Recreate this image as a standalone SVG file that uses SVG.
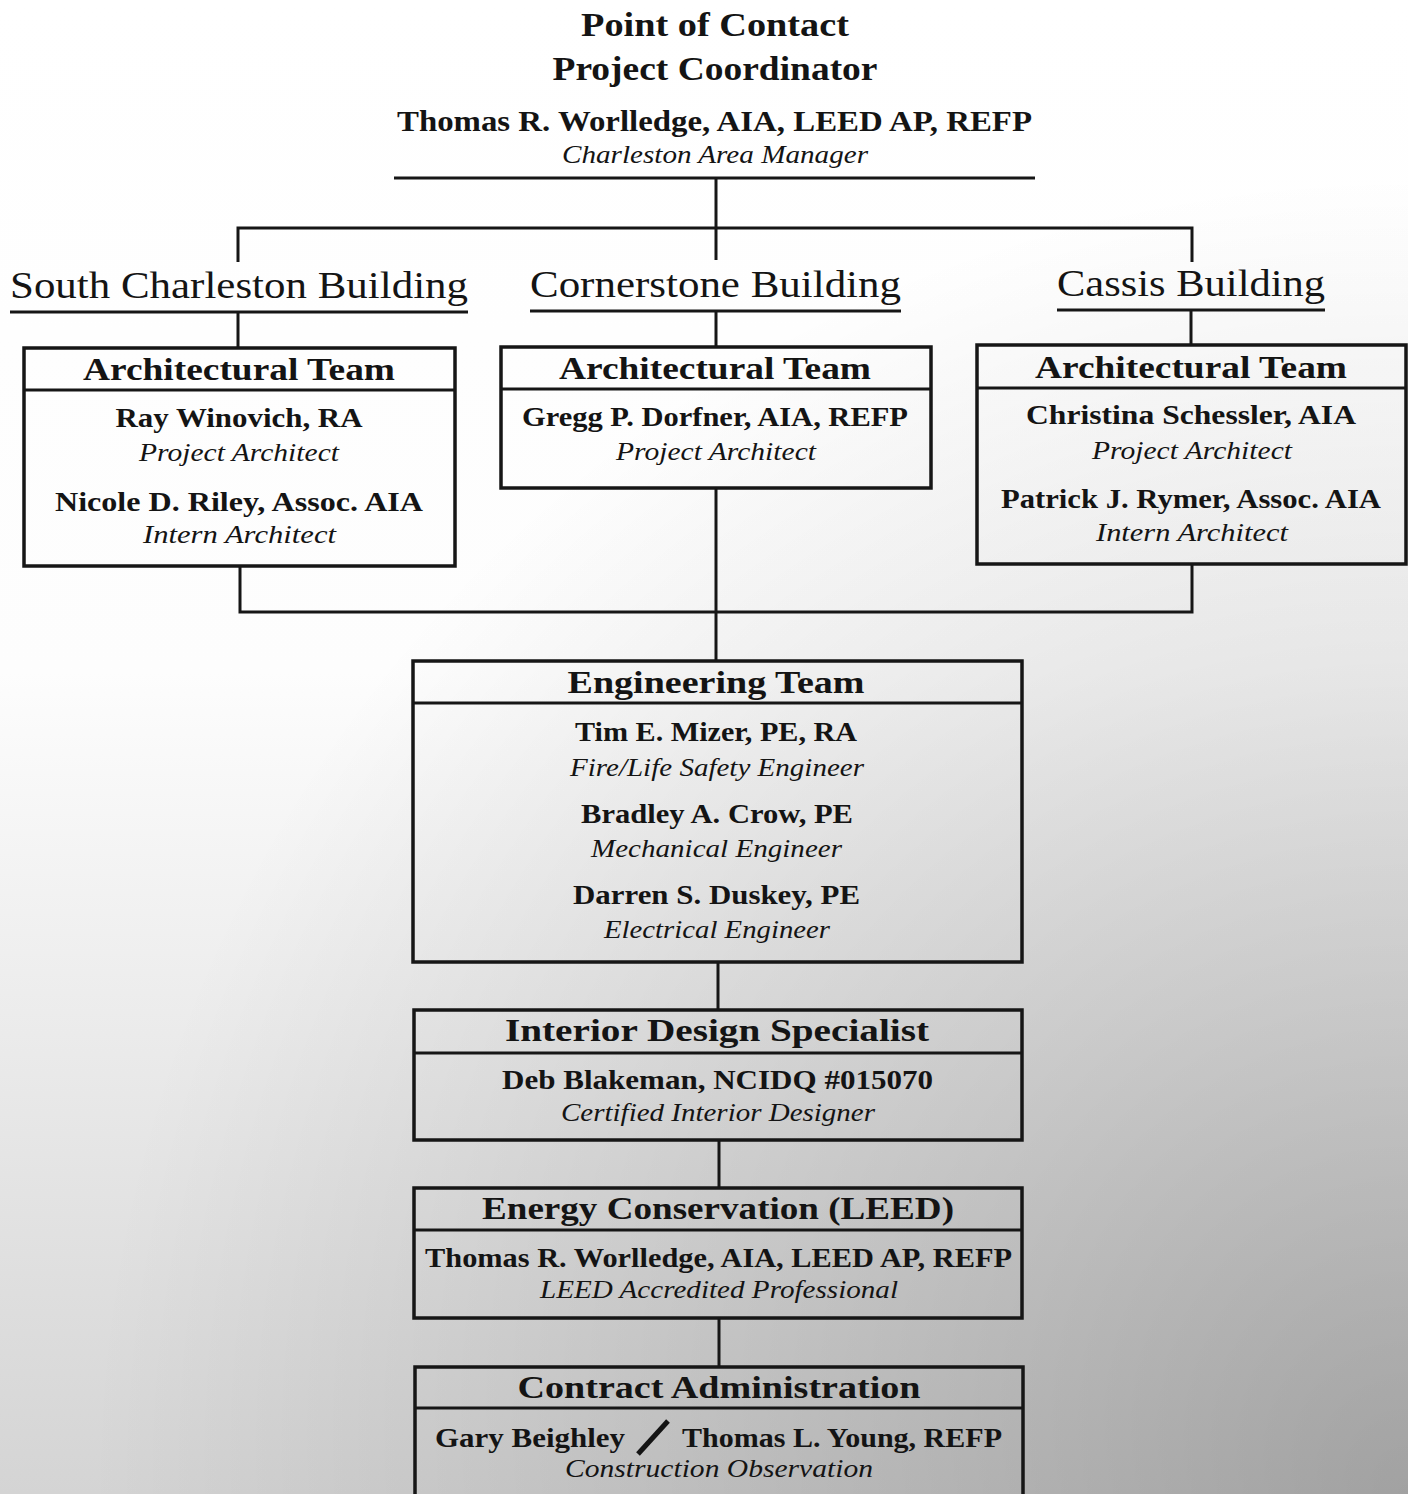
<svg xmlns="http://www.w3.org/2000/svg" width="1408" height="1494" viewBox="0 0 1408 1494">
<defs>
<linearGradient id="bgv" x1="0" y1="0" x2="0" y2="1494" gradientUnits="userSpaceOnUse">
<stop offset="0" stop-color="#ffffff"/>
<stop offset="0.45" stop-color="#fdfdfd"/>
<stop offset="1" stop-color="#d4d4d4"/>
</linearGradient>
<radialGradient id="bgr" cx="1408" cy="1494" r="1320" gradientUnits="userSpaceOnUse">
<stop offset="0" stop-color="#000" stop-opacity="0.24"/>
<stop offset="1" stop-color="#000" stop-opacity="0"/>
</radialGradient>
<style>
text{font-family:"Liberation Serif","Times New Roman",serif;fill:#141414;text-anchor:middle}
.title{font-size:34px;font-weight:bold}
.mgr{font-size:29px;font-weight:bold}
.it{font-size:26px;font-style:italic}
.bldg{font-size:37px}
.hd{font-size:32px;font-weight:bold}
.nm{font-size:28px;font-weight:bold}
.box{fill:none;stroke:#161616;stroke-width:3.5}
.div{stroke:#161616;stroke-width:3}
.ln{fill:none;stroke:#161616;stroke-width:3}
</style>
</defs>
<rect x="0" y="0" width="1408" height="1494" fill="url(#bgv)"/>
<rect x="0" y="0" width="1408" height="1494" fill="url(#bgr)"/>

<g id="connectors">
<path class="ln" d="M394 178 H1035" stroke-width="3.5"/>
<path class="ln" d="M716 178 V260"/>
<path class="ln" d="M238 262 V228 H1192 V262"/>
<path class="ln" d="M10 312 H468"/>
<path class="ln" d="M530 311 H901"/>
<path class="ln" d="M1057 310 H1325"/>
<path class="ln" d="M238 312 V348"/>
<path class="ln" d="M716 311 V347"/>
<path class="ln" d="M1191 310 V345"/>
<path class="ln" d="M240 566 V612 H1192 V564"/>
<path class="ln" d="M716 488 V661"/>
<path class="ln" d="M718 962 V1010"/>
<path class="ln" d="M719 1140 V1188"/>
<path class="ln" d="M719 1318 V1367"/>
</g>

<g id="coordinator">
<text class="title" x="715" y="36" textLength="268" lengthAdjust="spacingAndGlyphs">Point of Contact</text>
<text class="title" x="715" y="80" textLength="325" lengthAdjust="spacingAndGlyphs">Project Coordinator</text>
<text class="mgr" x="714.5" y="131" textLength="635" lengthAdjust="spacingAndGlyphs">Thomas R. Worlledge, AIA, LEED AP, REFP</text>
<text class="it" x="715" y="163" textLength="306" lengthAdjust="spacingAndGlyphs">Charleston Area Manager</text>
</g>

<g id="south-charleston">
<text class="bldg" x="239" y="298" textLength="458" lengthAdjust="spacingAndGlyphs">South Charleston Building</text>
</g>
<g id="cornerstone">
<text class="bldg" x="715.5" y="297" textLength="371" lengthAdjust="spacingAndGlyphs">Cornerstone Building</text>
</g>
<g id="cassis">
<text class="bldg" x="1191" y="296" textLength="268" lengthAdjust="spacingAndGlyphs">Cassis Building</text>
</g>

<g id="arch-team-south">
<rect class="box" x="24" y="348" width="431" height="218"/>
<line class="div" x1="24" y1="390" x2="455" y2="390"/>
<text class="hd" x="239" y="380" textLength="312" lengthAdjust="spacingAndGlyphs">Architectural Team</text>
<text class="nm" x="239" y="427" textLength="247" lengthAdjust="spacingAndGlyphs">Ray Winovich, RA</text>
<text class="it" x="239" y="461" textLength="200" lengthAdjust="spacingAndGlyphs">Project Architect</text>
<text class="nm" x="239" y="511" textLength="368" lengthAdjust="spacingAndGlyphs">Nicole D. Riley, Assoc. AIA</text>
<text class="it" x="239.5" y="543" textLength="193" lengthAdjust="spacingAndGlyphs">Intern Architect</text>
</g>

<g id="arch-team-cornerstone">
<rect class="box" x="501" y="347" width="430" height="141"/>
<line class="div" x1="501" y1="389" x2="931" y2="389"/>
<text class="hd" x="715" y="379" textLength="312" lengthAdjust="spacingAndGlyphs">Architectural Team</text>
<text class="nm" x="715" y="426" textLength="386" lengthAdjust="spacingAndGlyphs">Gregg P. Dorfner, AIA, REFP</text>
<text class="it" x="716" y="460" textLength="200" lengthAdjust="spacingAndGlyphs">Project Architect</text>
</g>

<g id="arch-team-cassis">
<rect class="box" x="977" y="345" width="429" height="219"/>
<line class="div" x1="977" y1="388" x2="1406" y2="388"/>
<text class="hd" x="1191" y="378" textLength="312" lengthAdjust="spacingAndGlyphs">Architectural Team</text>
<text class="nm" x="1191" y="424" textLength="330" lengthAdjust="spacingAndGlyphs">Christina Schessler, AIA</text>
<text class="it" x="1192" y="459" textLength="200" lengthAdjust="spacingAndGlyphs">Project Architect</text>
<text class="nm" x="1191" y="508" textLength="380" lengthAdjust="spacingAndGlyphs">Patrick J. Rymer, Assoc. AIA</text>
<text class="it" x="1192" y="541" textLength="192" lengthAdjust="spacingAndGlyphs">Intern Architect</text>
</g>

<g id="engineering-team">
<rect class="box" x="413" y="661" width="609" height="301"/>
<line class="div" x1="413" y1="703" x2="1022" y2="703"/>
<text class="hd" x="716" y="693" textLength="297" lengthAdjust="spacingAndGlyphs">Engineering Team</text>
<text class="nm" x="716" y="741" textLength="282" lengthAdjust="spacingAndGlyphs">Tim E. Mizer, PE, RA</text>
<text class="it" x="717" y="776" textLength="294" lengthAdjust="spacingAndGlyphs">Fire/Life Safety Engineer</text>
<text class="nm" x="717" y="823" textLength="272" lengthAdjust="spacingAndGlyphs">Bradley A. Crow, PE</text>
<text class="it" x="716.5" y="857" textLength="251" lengthAdjust="spacingAndGlyphs">Mechanical Engineer</text>
<text class="nm" x="716.5" y="904" textLength="287" lengthAdjust="spacingAndGlyphs">Darren S. Duskey, PE</text>
<text class="it" x="717" y="938" textLength="226" lengthAdjust="spacingAndGlyphs">Electrical Engineer</text>
</g>

<g id="interior-design">
<rect class="box" x="414" y="1010" width="608" height="130"/>
<line class="div" x1="414" y1="1053" x2="1022" y2="1053"/>
<text class="hd" x="717" y="1041" textLength="424" lengthAdjust="spacingAndGlyphs">Interior Design Specialist</text>
<text class="nm" x="717.5" y="1089" textLength="431" lengthAdjust="spacingAndGlyphs">Deb Blakeman, NCIDQ #015070</text>
<text class="it" x="718" y="1121" textLength="314" lengthAdjust="spacingAndGlyphs">Certified Interior Designer</text>
</g>

<g id="energy-conservation">
<rect class="box" x="414" y="1188" width="608" height="130"/>
<line class="div" x1="414" y1="1230" x2="1022" y2="1230"/>
<text class="hd" x="718" y="1219" textLength="472" lengthAdjust="spacingAndGlyphs">Energy Conservation (LEED)</text>
<text class="nm" x="718.5" y="1267" textLength="587" lengthAdjust="spacingAndGlyphs">Thomas R. Worlledge, AIA, LEED AP, REFP</text>
<text class="it" x="719" y="1298" textLength="358" lengthAdjust="spacingAndGlyphs">LEED Accredited Professional</text>
</g>

<g id="contract-administration">
<rect class="box" x="415" y="1367" width="608" height="150"/>
<line class="div" x1="415" y1="1408" x2="1023" y2="1408"/>
<text class="hd" x="719" y="1398" textLength="403" lengthAdjust="spacingAndGlyphs">Contract Administration</text>
<text class="nm" x="435" y="1447" textLength="190" lengthAdjust="spacingAndGlyphs" style="text-anchor:start">Gary Beighley</text>
<line x1="638" y1="1454" x2="668" y2="1421" stroke="#141414" stroke-width="5"/>
<text class="nm" x="682" y="1447" textLength="320" lengthAdjust="spacingAndGlyphs" style="text-anchor:start">Thomas L. Young, REFP</text>
<text class="it" x="719" y="1477" textLength="308" lengthAdjust="spacingAndGlyphs">Construction Observation</text>
</g>
</svg>
